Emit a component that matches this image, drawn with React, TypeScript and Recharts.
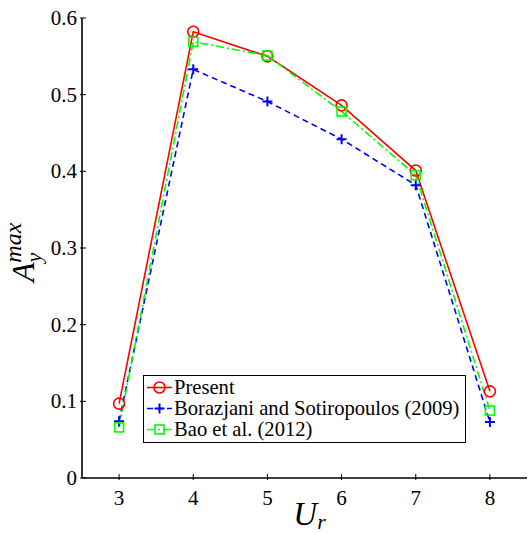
import React from 'react';
import { LineChart, Line, XAxis, YAxis, Legend } from 'recharts';

const ur = [3, 4, 5, 6, 7, 8];
const present = [0.097, 0.582, 0.55, 0.486, 0.401, 0.113];
const borazjani = [0.074, 0.533, 0.491, 0.442, 0.382, 0.073];
const bao = [0.066, 0.569, 0.551, 0.478, 0.395, 0.088];
const xTicks = [3, 4, 5, 6, 7, 8];
const yTicks = [0, 0.1, 0.2, 0.3, 0.4, 0.5, 0.6];

const seriesOrder = ['present', 'borazjani', 'bao'];

const data = ur.map((u, i) => ({
    ur: u,
    present: present[i],
    borazjani: borazjani[i],
    bao: bao[i],
}));

const FONT = 'Liberation Serif, DejaVu Serif, Noto Serif, serif';
const TICK = 6;

const styles: Record<string, { color: string; dash?: string; kind: string }> = {
    present: { color: '#ff0000', kind: 'circle' },
    borazjani: { color: '#0000ff', dash: '6 4', kind: 'plus' },
    bao: { color: '#00ff00', dash: '8 3 2 3', kind: 'square' },
};

const Marker = ({ cx, cy, kind, color }: any) => {
    if (cx == null || cy == null) return null;
    if (kind === 'circle') {
        return <circle cx={cx} cy={cy} r={5.5} fill="none" stroke={color} strokeWidth={1.6} />;
    }
    if (kind === 'plus') {
        return (
            <path d={`M${cx - 5},${cy}H${cx + 5}M${cx},${cy - 5}V${cy + 5}`} stroke={color} strokeWidth={2} fill="none" />
        );
    }
    return <rect x={cx - 4.5} y={cy - 4.5} width={9} height={9} fill="none" stroke={color} strokeWidth={1.6} />;
};

const makeDot = (key: string) => (p: any) => (
    <Marker key={`${key}-${p.index}`} cx={p.cx} cy={p.cy} kind={styles[key].kind} color={styles[key].color} />
);

const BottomTick = ({ x, y, payload }: any) => (
    <g>
        <line x1={x} y1={y} x2={x} y2={y - TICK} stroke="#000" />
        <text x={x} y={y + 25} textAnchor="middle" style={{ fontFamily: FONT }} fontSize={21} fill="#000">
            {payload.value}
        </text>
    </g>
);

const TopTick = ({ x, y }: any) => <line x1={x} y1={y} x2={x} y2={y + TICK} stroke="#000" />;

const LeftTick = ({ x, y, payload }: any) => (
    <g>
        <line x1={x} y1={y} x2={x + TICK} y2={y} stroke="#000" />
        <text x={x - 3} y={y + 7} textAnchor="end" style={{ fontFamily: FONT }} fontSize={21} fill="#000">
            {payload.value === 0 ? '0' : payload.value.toFixed(1)}
        </text>
    </g>
);

const RightTick = ({ x, y }: any) => <line x1={x} y1={y} x2={x - TICK} y2={y} stroke="#000" />;

const YLabel = ({ viewBox }: any) => {
    const cx = viewBox.x + 34;
    const cy = viewBox.y + viewBox.height / 2 + 34;
    return (
        <text
            x={cx}
            y={cy}
            transform={`rotate(-90 ${cx} ${cy})`}
            style={{ fontFamily: FONT, fontStyle: 'italic' }}
            fill="#000"
        >
            <tspan fontSize={32}>A</tspan>
            <tspan fontSize={22} dy={7}>y</tspan>
            <tspan fontSize={24} dx={-10} dy={-20}>max</tspan>
        </text>
    );
};

const XLabel = ({ viewBox }: any) => {
    const x = viewBox.x + viewBox.width / 2 + 5;
    const y = viewBox.y + 47;
    return (
        <text x={x} y={y} textAnchor="middle" style={{ fontFamily: FONT, fontStyle: 'italic' }} fill="#000">
            <tspan fontSize={33}>U</tspan>
            <tspan fontSize={22} dy={4}>r</tspan>
        </text>
    );
};

const LegendBox = ({ payload }: any) => {
    const items = [...(payload || [])].sort(
        (a: any, b: any) => seriesOrder.indexOf(a.dataKey) - seriesOrder.indexOf(b.dataKey)
    );
    return (
        <div
            style={{
                border: '1.5px solid #000',
                background: '#fff',
                padding: '1px 6px 2px 2px',
                fontFamily: FONT,
                fontSize: 20.6,
                color: '#000',
            }}
        >
            {items.map((e: any) => {
                const s = styles[e.dataKey];
                return (
                    <div key={e.dataKey} style={{ display: 'flex', alignItems: 'center', height: 21, lineHeight: '21px' }}>
                        <svg width={27} height={21} style={{ flex: 'none' }}>
                            <line x1={1} x2={26} y1={10.5} y2={10.5} stroke={s.color} strokeWidth={1.6} strokeDasharray={s.dash} />
                            <Marker cx={13.5} cy={10.5} kind={s.kind} color={s.color} />
                        </svg>
                        <span style={{ marginLeft: 1, whiteSpace: 'nowrap' }}>{e.value}</span>
                    </div>
                );
            })}
        </div>
    );
};

export default function App() {
    return (
        <div style={{ position: 'absolute', left: 0, top: 0, background: '#fff' }}>
            <LineChart width={528} height={534} data={data} margin={{ top: 18, right: 1, bottom: 0, left: 0 }}>
                <XAxis
                    dataKey="ur"
                    type="number"
                    domain={[2.5, 8.5]}
                    ticks={xTicks}
                    height={56}
                    tickSize={0}
                    tickLine={false}
                    axisLine={{ stroke: '#000', strokeWidth: 1.6 }}
                    tick={<BottomTick />}
                    label={<XLabel />}
                    allowDataOverflow
                />
                <XAxis
                    xAxisId="t"
                    orientation="top"
                    type="number"
                    domain={[2.5, 8.5]}
                    ticks={xTicks}
                    height={0}
                    tickSize={0}
                    tickLine={false}
                    axisLine={{ stroke: '#000', strokeWidth: 1.6 }}
                    tick={<TopTick />}
                    allowDataOverflow
                />
                <YAxis
                    type="number"
                    domain={[0, 0.6]}
                    ticks={yTicks}
                    width={82}
                    tickSize={0}
                    tickLine={false}
                    axisLine={{ stroke: '#000', strokeWidth: 1.6 }}
                    tick={<LeftTick />}
                    label={<YLabel />}
                    allowDataOverflow
                />
                <YAxis
                    yAxisId="r"
                    orientation="right"
                    type="number"
                    domain={[0, 0.6]}
                    ticks={yTicks}
                    width={0}
                    tickSize={0}
                    tickLine={false}
                    axisLine={{ stroke: '#000', strokeWidth: 1.6 }}
                    tick={<RightTick />}
                    allowDataOverflow
                />
                <Legend
                    layout="vertical"
                    align="center"
                    verticalAlign="middle"
                    content={<LegendBox />}
                    wrapperStyle={{ left: 143, top: 375, bottom: 'auto', right: 'auto', width: 'auto', height: 'auto' }}
                />
                <Line
                    dataKey="present"
                    name="Present"
                    stroke={styles.present.color}
                    strokeWidth={1.6}
                    dot={makeDot('present')}
                    isAnimationActive={false}
                />
                <Line
                    dataKey="borazjani"
                    name="Borazjani and Sotiropoulos (2009)"
                    stroke={styles.borazjani.color}
                    strokeWidth={1.6}
                    strokeDasharray={styles.borazjani.dash}
                    dot={makeDot('borazjani')}
                    isAnimationActive={false}
                />
                <Line
                    dataKey="bao"
                    name="Bao et al. (2012)"
                    stroke={styles.bao.color}
                    strokeWidth={1.6}
                    strokeDasharray={styles.bao.dash}
                    dot={makeDot('bao')}
                    isAnimationActive={false}
                />
            </LineChart>
        </div>
    );
}
